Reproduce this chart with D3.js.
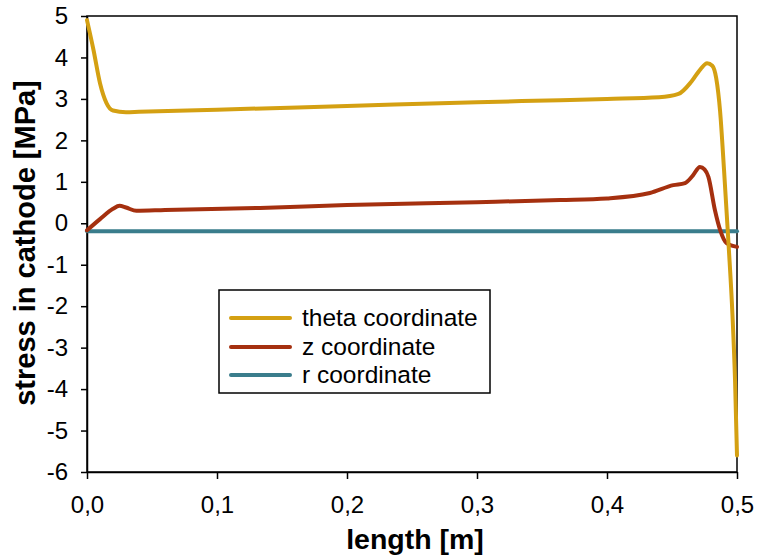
<!DOCTYPE html>
<html>
<head>
<meta charset="utf-8">
<script src="https://cdn.jsdelivr.net/npm/d3@7"></script>
<style>
  body { margin: 0; background: #fff; }
  svg { display: block; font-family: Arial, "Liberation Sans", sans-serif; }
  .tick text { font-size: 24px; fill: #000; }
</style>
</head>
<body>
<div id="chart"></div>
<script>
var width = 758,
    height = 560;

var plotLeft = 87, plotRight = 737, plotTop = 16, plotBottom = 472;

// data (length in m, stress in MPa)
var thetaLen = [0, 0.005, 0.01, 0.015, 0.02, 0.03, 0.04, 0.1, 0.2, 0.3, 0.364, 0.4, 0.44, 0.455, 0.465, 0.472, 0.477, 0.481, 0.484, 0.487, 0.49, 0.4935, 0.4965, 0.4985, 0.5];
var thetaVal = [4.9, 4.18, 3.38, 2.9, 2.72, 2.68, 2.69, 2.74, 2.83, 2.92, 2.97, 3.0, 3.04, 3.12, 3.42, 3.72, 3.86, 3.8, 3.5, 2.7, 1.3, -0.5, -2.2, -3.8, -5.6];

var zLen = [0, 0.01, 0.02, 0.025, 0.03, 0.038, 0.06, 0.133, 0.2, 0.3, 0.364, 0.4, 0.433, 0.451, 0.46, 0.466, 0.4715, 0.475, 0.478, 0.483, 0.487, 0.492, 0.5];
var zVal = [-0.17, 0.1, 0.35, 0.42, 0.38, 0.3, 0.32, 0.37, 0.44, 0.51, 0.56, 0.6, 0.73, 0.92, 0.97, 1.15, 1.36, 1.3, 1.12, 0.32, -0.16, -0.48, -0.57];

var rLen = [0, 0.5];
var rVal = [-0.19, -0.19];

var seriesNames = ["theta coordinate", "z coordinate", "r coordinate"];
var seriesColors = ["#d4a012", "#a5300f", "#3a7d8c"];

var xTicks = [0, 0.1, 0.2, 0.3, 0.4, 0.5];
var yTicks = [-6, -5, -4, -3, -2, -1, 0, 1, 2, 3, 4, 5];

var locale = d3.formatLocale({decimal: ",", thousands: ".", grouping: [3], currency: ["", ""], minus: "-"});
var fx = locale.format(".1f");

var x = d3.scaleLinear().domain([0, 0.5]).range([plotLeft, plotRight]);
var y = d3.scaleLinear().domain([-6, 5]).range([plotBottom, plotTop]);

var svg = d3.select("#chart")
  .append("svg")
  .attr("width", width)
  .attr("height", height);

// plot frame
svg.append("rect")
  .attr("x", plotLeft)
  .attr("y", plotTop)
  .attr("width", plotRight - plotLeft)
  .attr("height", plotBottom - plotTop)
  .style("fill", "none")
  .style("stroke", "#000")
  .style("stroke-width", "1.5px");

// axes
var yAxis = d3.axisLeft(y).tickValues(yTicks).tickSizeInner(6).tickSizeOuter(0).tickPadding(13)
  .tickFormat(function(d) { return d; });
var xAxis = d3.axisBottom(x).tickValues(xTicks).tickSizeInner(7).tickSizeOuter(0).tickPadding(17)
  .tickFormat(fx);

var gy = svg.append("g").attr("transform", "translate(" + plotLeft + ",0)").call(yAxis);
var gx = svg.append("g").attr("transform", "translate(0," + plotBottom + ")").call(xAxis);

[gx, gy].forEach(function(g) {
  g.attr("font-size", null).attr("font-family", null);
  g.select(".domain").style("stroke", "#000").style("stroke-width", "1.5px");
  g.selectAll(".tick line").style("stroke", "#000").style("stroke-width", "1.5px");
});

// lines
var line = d3.line()
  .x(function(d) { return x(d[0]); })
  .y(function(d) { return y(d[1]); })
  .curve(d3.curveMonotoneX);

var series = [
  d3.zip(thetaLen, thetaVal),
  d3.zip(zLen, zVal),
  d3.zip(rLen, rVal)
];

// r drawn first, then z, theta on top
[2, 1, 0].forEach(function(i) {
  svg.append("path")
    .datum(series[i])
    .attr("d", line)
    .style("fill", "none")
    .style("stroke", seriesColors[i])
    .style("stroke-width", "4px")
    .style("stroke-linejoin", "round")
    .style("stroke-linecap", "round");
});

// axis titles
svg.append("text")
  .attr("x", (plotLeft + plotRight) / 2 + 3)
  .attr("y", 549)
  .attr("text-anchor", "middle")
  .style("font-weight", "bold")
  .style("font-size", "28.5px")
  .text("length [m]");

svg.append("text")
  .attr("transform", "translate(35,243) rotate(-90)")
  .attr("text-anchor", "middle")
  .style("font-weight", "bold")
  .style("font-size", "29px")
  .text("stress in cathode [MPa]");

// legend
var legend = svg.append("g");
legend.append("rect")
  .attr("x", 219)
  .attr("y", 290)
  .attr("width", 271)
  .attr("height", 103)
  .style("fill", "#fff")
  .style("stroke", "#000")
  .style("stroke-width", "1.5px");

var legendY = [318, 347, 375];
seriesNames.forEach(function(name, i) {
  legend.append("line")
    .attr("x1", 231).attr("x2", 290)
    .attr("y1", legendY[i]).attr("y2", legendY[i])
    .style("stroke", seriesColors[i])
    .style("stroke-width", "4px")
    .style("stroke-linecap", "round");
  legend.append("text")
    .attr("x", 302)
    .attr("y", legendY[i] + 8)
    .style("font-size", "24.5px")
    .text(name);
});
</script>
</body>
</html>
